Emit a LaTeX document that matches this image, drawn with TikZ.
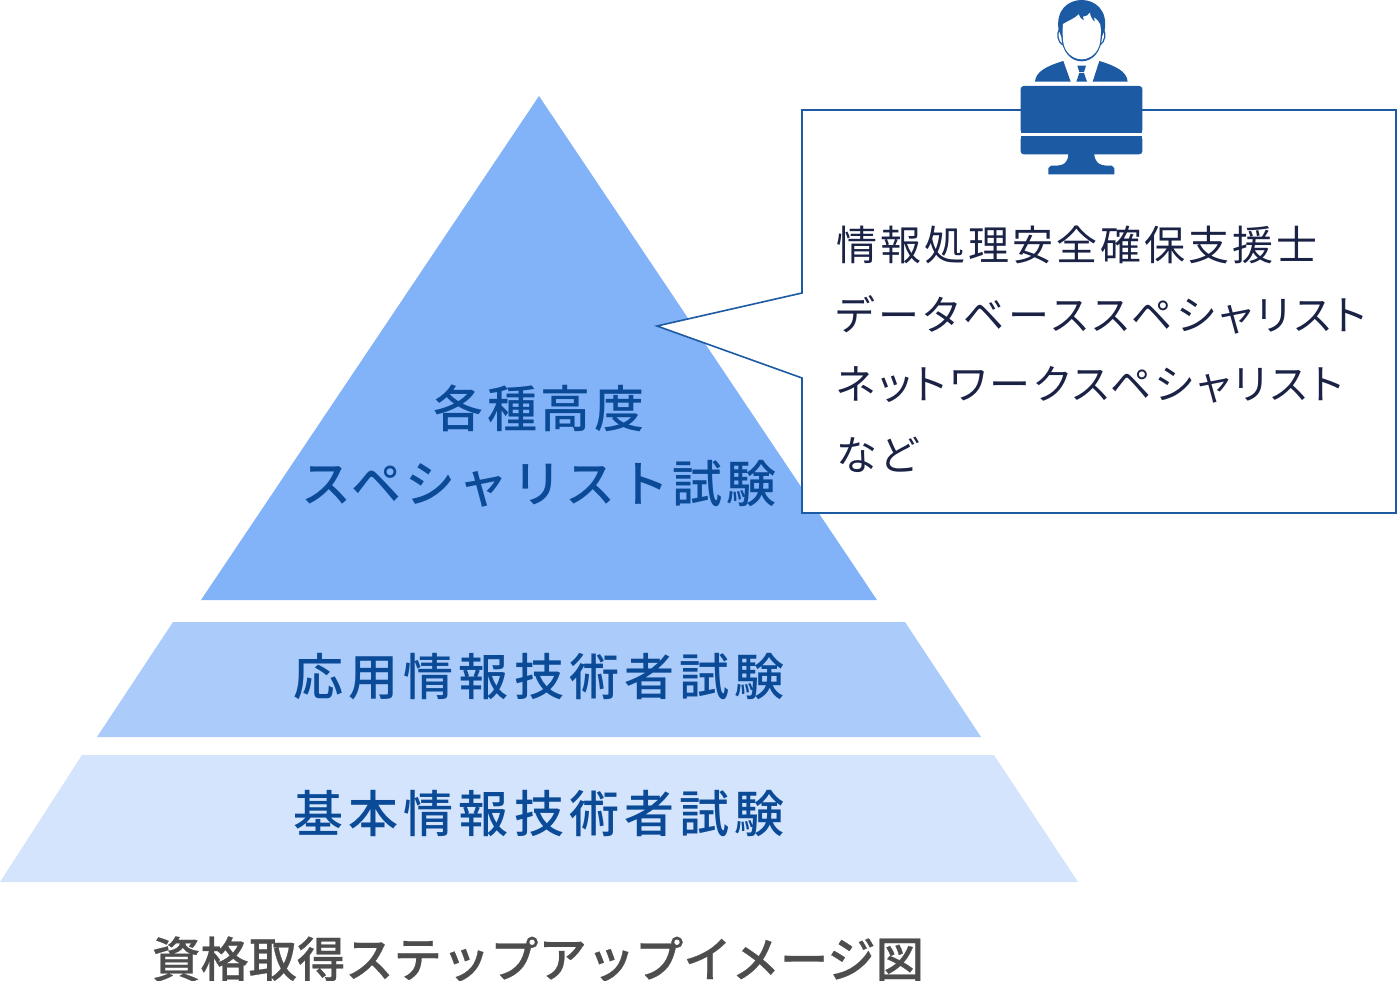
\documentclass[tikz,border=0pt]{standalone}
\usepackage{fontspec}
\setmainfont{Noto Sans CJK JP}
\newfontfamily\jpwide[LetterSpace=10.4]{Noto Sans CJK JP Medium}
\newfontfamily\jpmid[LetterSpace=7]{Noto Sans CJK JP Medium}
\newfontfamily\jpkana[LetterSpace=7.1]{Noto Sans CJK JP Medium}
\newfontfamily\jpcall[LetterSpace=7.5,RawFeature={+palt}]{Noto Sans CJK JP}
\newfontfamily\jpcallb[LetterSpace=10.1,RawFeature={+palt}]{Noto Sans CJK JP}
\newfontfamily\jpcallc[LetterSpace=8.5,RawFeature={+palt}]{Noto Sans CJK JP}
\newfontfamily\jpcap[FakeBold=0.5]{Noto Sans CJK JP Medium}
\definecolor{tierA}{HTML}{82B2F7}
\definecolor{tierB}{HTML}{ABCBFA}
\definecolor{tierC}{HTML}{D4E4FC}
\definecolor{tierText}{HTML}{0A4A96}
\definecolor{iconBlue}{HTML}{1C5AA3}
\definecolor{bodyText}{HTML}{1A2245}
\definecolor{capText}{HTML}{4D4D4D}
\tikzset{
  tierlabel/.style={inner sep=0pt,text=tierText,font=\jpwide\fontsize{50}{52}\selectfont,anchor=center},
  tiertop/.style={inner sep=0pt,text=tierText,font=\jpmid\fontsize{50}{52}\selectfont,anchor=center},
  tierkana/.style={inner sep=0pt,text=tierText,font=\jpkana\fontsize{50}{52}\selectfont,anchor=center},
  calloutline/.style={inner sep=0pt,text=bodyText,font=\jpcall\fontsize{41}{43}\selectfont,anchor=west},
  calloutb/.style={calloutline,font=\jpcallb\fontsize{41}{43}\selectfont},
  calloutc/.style={calloutline,font=\jpcallc\fontsize{41}{43}\selectfont},
  icon/.style={fill=iconBlue,draw=none}
}
\begin{document}
\begin{tikzpicture}[x=1pt,y=-1pt]
\useasboundingbox (0,0) rectangle (1397,981);
\fill[tierA] (539,96) -- (877,600) -- (201,600) -- cycle;
\fill[tierB] (173,622) -- (905,622) -- (981,737) -- (97,737) -- cycle;
\fill[tierC] (82,755) -- (994,755) -- (1078,882) -- (0,882) -- cycle;
\node[tiertop] (adv1) at (539,408) {各種高度};
\node[tierkana] (adv2) at (539,484) {スペシャリスト試験};
\node[tierlabel] (app) at (539,677) {応用情報技術者試験};
\node[tierlabel] (fund) at (539,814) {基本情報技術者試験};
\draw[iconBlue,line width=1.6pt,fill=white,line join=miter]
  (802,110) -- (1396,110) -- (1396,513) -- (802,513) -- (802,378) -- (657,326) -- (802,293) -- cycle;
\node[calloutline] (l1) at (836,245) {情報処理安全確保支援士};
\node[calloutb] (l2) at (836,315) {データベーススペシャリスト};
\node[calloutc] (l3) at (836,385) {ネットワークスペシャリスト};
\node[calloutline] (l4) at (836,455) {など};
\node[inner sep=0pt,text=capText,font=\jpcap\fontsize{48.3}{50}\selectfont,anchor=center] (cap) at (538,959) {資格取得ステップアップイメージ図};
\begin{scope}[shift={(1000,0)},x=0.3333pt,y=-0.3333pt]
  \fill[icon,rounded corners=3pt] (62,399) -- (62,258) -- (427,258) -- (427,399) -- cycle;
  \fill[icon] (62,399) rectangle (427,380);
  \fill[icon,rounded corners=3pt] (62,409) -- (427,409) -- (427,463) -- (62,463) -- cycle;
  \fill[icon] (62,409) rectangle (427,430);
  \fill[icon] (205,460) -- (283,460) .. controls (283,485) and (295,497) .. (325,497) -- (335,497) -- (343,505) -- (343,523) -- (145,523) -- (145,505) -- (153,497) -- (165,497) .. controls (195,497) and (205,485) .. (205,460) -- cycle;
  \fill[icon] (105,245) .. controls (107,215) and (140,198) .. (190,183) -- (212,245) -- cycle;
  \fill[icon] (383,245) .. controls (381,215) and (348,198) .. (298,183) -- (278,245) -- cycle;
  \fill[icon] (232,197) -- (258,197) -- (252,216) -- (238,216) -- cycle;
  \fill[icon] (238,219) -- (252,219) -- (261,245) -- (229,245) -- cycle;
  \draw[iconBlue,line width=1.2pt] (178,88) .. controls (170,100) and (172,125) .. (188,135);
  \draw[iconBlue,line width=1.2pt] (310,88) .. controls (318,100) and (316,125) .. (300,135);
  \fill[icon] (176,90) .. controls (166,30) and (205,0) .. (245,0) .. controls (285,0) and (324,30) .. (314,90) -- (306,110)
     .. controls (304,155) and (278,184) .. (245,184) .. controls (212,184) and (186,155) .. (184,110) -- cycle;
  \fill[white] (189,72) .. controls (205,62) and (225,55) .. (236,43) .. controls (238,52) and (245,58) .. (252,62)
     -- (249,50) .. controls (258,50) and (266,45) .. (270,38) .. controls (270,48) and (278,62) .. (285,65) -- (282,52) .. controls (290,58) and (298,65) .. (301,74)
     .. controls (304,90) and (302,115) .. (300,128) .. controls (296,155) and (273,178) .. (245,178) .. controls (217,178) and (194,155) .. (190,128) .. controls (188,110) and (187,90) .. (189,72) -- cycle;
\end{scope}
\end{tikzpicture}
\end{document}
